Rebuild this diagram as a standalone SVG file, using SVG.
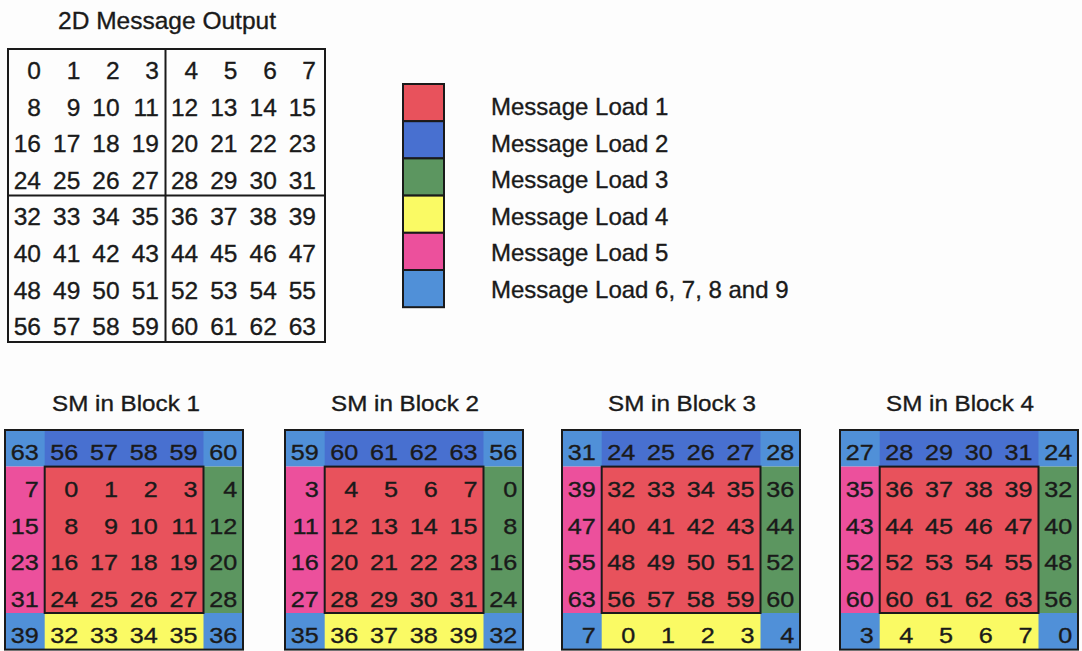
<svg xmlns="http://www.w3.org/2000/svg" width="1082" height="651" viewBox="0 0 1082 651">
  <style>
    text { font-family: "Liberation Sans", Arial, sans-serif; fill: #1a1a1a; stroke: #1a1a1a; stroke-width: 0.35; }
    .title { font-size: 24.5px; text-anchor: middle; }
    .grid { font-size: 24.5px; text-anchor: end; }
    .leg { font-size: 24px; }
    .bt { font-size: 22px; text-anchor: middle; }
    .bn { font-size: 22.5px; text-anchor: end; }
    .frame { fill: none; stroke: #1a1a1a; stroke-width: 2; }
    .red { fill: #E8525C; }
    .blue { fill: #4870D0; }
    .green { fill: #5C9660; }
    .yellow { fill: #FAFA64; }
    .pink { fill: #EC509C; }
    .sky { fill: #5090D8; }
  </style>
  <rect width="1082" height="651" fill="#fdfdfd"/>

  <!-- 8x8 output grid split into four 4x4 quadrants -->
  <g id="output-grid">
    <text class="title" x="167" y="29">2D Message Output</text>
    <rect class="frame" x="8" y="49" width="317" height="293"/>
    <line x1="165.5" y1="49" x2="165.5" y2="342" stroke="#1a1a1a" stroke-width="2"/>
    <line x1="8" y1="195.5" x2="325" y2="195.5" stroke="#1a1a1a" stroke-width="2"/>
    <g class="grid">
      <text x="41" y="79">0</text><text x="80.3" y="79">1</text><text x="119.6" y="79">2</text><text x="158.9" y="79">3</text>
      <text x="198.2" y="79">4</text><text x="237.5" y="79">5</text><text x="276.8" y="79">6</text><text x="316" y="79">7</text>
      <text x="41" y="115.6">8</text><text x="80.3" y="115.6">9</text><text x="119.6" y="115.6">10</text><text x="158.9" y="115.6">11</text>
      <text x="198.2" y="115.6">12</text><text x="237.5" y="115.6">13</text><text x="276.8" y="115.6">14</text><text x="316" y="115.6">15</text>
      <text x="41" y="152.2">16</text><text x="80.3" y="152.2">17</text><text x="119.6" y="152.2">18</text><text x="158.9" y="152.2">19</text>
      <text x="198.2" y="152.2">20</text><text x="237.5" y="152.2">21</text><text x="276.8" y="152.2">22</text><text x="316" y="152.2">23</text>
      <text x="41" y="188.8">24</text><text x="80.3" y="188.8">25</text><text x="119.6" y="188.8">26</text><text x="158.9" y="188.8">27</text>
      <text x="198.2" y="188.8">28</text><text x="237.5" y="188.8">29</text><text x="276.8" y="188.8">30</text><text x="316" y="188.8">31</text>
      <text x="41" y="225.4">32</text><text x="80.3" y="225.4">33</text><text x="119.6" y="225.4">34</text><text x="158.9" y="225.4">35</text>
      <text x="198.2" y="225.4">36</text><text x="237.5" y="225.4">37</text><text x="276.8" y="225.4">38</text><text x="316" y="225.4">39</text>
      <text x="41" y="262">40</text><text x="80.3" y="262">41</text><text x="119.6" y="262">42</text><text x="158.9" y="262">43</text>
      <text x="198.2" y="262">44</text><text x="237.5" y="262">45</text><text x="276.8" y="262">46</text><text x="316" y="262">47</text>
      <text x="41" y="298.6">48</text><text x="80.3" y="298.6">49</text><text x="119.6" y="298.6">50</text><text x="158.9" y="298.6">51</text>
      <text x="198.2" y="298.6">52</text><text x="237.5" y="298.6">53</text><text x="276.8" y="298.6">54</text><text x="316" y="298.6">55</text>
      <text x="41" y="335.2">56</text><text x="80.3" y="335.2">57</text><text x="119.6" y="335.2">58</text><text x="158.9" y="335.2">59</text>
      <text x="198.2" y="335.2">60</text><text x="237.5" y="335.2">61</text><text x="276.8" y="335.2">62</text><text x="316" y="335.2">63</text>
    </g>
  </g>

  <!-- colour key -->
  <g id="legend">
    <g stroke="#1a1a1a" stroke-width="2">
      <rect class="red" x="403" y="84" width="41" height="37.2"/>
      <rect class="blue" x="403" y="121.2" width="41" height="37.2"/>
      <rect class="green" x="403" y="158.4" width="41" height="37.2"/>
      <rect class="yellow" x="403" y="195.6" width="41" height="37.2"/>
      <rect class="pink" x="403" y="232.8" width="41" height="37.2"/>
      <rect class="sky" x="403" y="270" width="41" height="37.2"/>
    </g>
    <text class="leg" x="491" y="115">Message Load 1</text>
    <text class="leg" x="491" y="151.5">Message Load 2</text>
    <text class="leg" x="491" y="188">Message Load 3</text>
    <text class="leg" x="491" y="224.5">Message Load 4</text>
    <text class="leg" x="491" y="261">Message Load 5</text>
    <text class="leg" x="491" y="297.5">Message Load 6, 7, 8 and 9</text>
  </g>

  <!-- shared-memory tile layout: 6x6 cells, halo ring round a 4x4 core -->
  <defs>
    <g id="tile">
      <rect class="sky" x="0" y="430" width="238" height="36.6"/>
      <rect class="blue" x="39.7" y="430" width="158.8" height="36.6"/>
      <rect class="pink" x="0" y="466.6" width="39.7" height="146.4"/>
      <rect class="green" x="198.5" y="466.6" width="39.5" height="146.4"/>
      <rect class="sky" x="0" y="613" width="238" height="36.6"/>
      <rect class="yellow" x="39.7" y="613" width="158.8" height="36.6"/>
      <rect class="frame" x="39.7" y="466.6" width="158.8" height="146.4" style="fill:#E8525C"/>
      <rect class="frame" x="0" y="430" width="238" height="219.6"/>
    </g>
  </defs>

  <g id="block1" transform="translate(5,0)">
    <use href="#tile"/>
    <text class="bt" x="0" y="0" transform="translate(121,410.5) scale(1.1,1)">SM in Block 1</text>
    <g class="bn" transform="scale(1.12,1)">
      <text x="30.1" y="460.5">63</text><text x="65.5" y="460.5">56</text><text x="101" y="460.5">57</text><text x="136.4" y="460.5">58</text><text x="171.9" y="460.5">59</text><text x="207.3" y="460.5">60</text>
      <text x="30.1" y="497.1">7</text><text x="65.5" y="497.1">0</text><text x="101" y="497.1">1</text><text x="136.4" y="497.1">2</text><text x="171.9" y="497.1">3</text><text x="207.3" y="497.1">4</text>
      <text x="30.1" y="533.7">15</text><text x="65.5" y="533.7">8</text><text x="101" y="533.7">9</text><text x="136.4" y="533.7">10</text><text x="171.9" y="533.7">11</text><text x="207.3" y="533.7">12</text>
      <text x="30.1" y="570.3">23</text><text x="65.5" y="570.3">16</text><text x="101" y="570.3">17</text><text x="136.4" y="570.3">18</text><text x="171.9" y="570.3">19</text><text x="207.3" y="570.3">20</text>
      <text x="30.1" y="606.9">31</text><text x="65.5" y="606.9">24</text><text x="101" y="606.9">25</text><text x="136.4" y="606.9">26</text><text x="171.9" y="606.9">27</text><text x="207.3" y="606.9">28</text>
      <text x="30.1" y="643.5">39</text><text x="65.5" y="643.5">32</text><text x="101" y="643.5">33</text><text x="136.4" y="643.5">34</text><text x="171.9" y="643.5">35</text><text x="207.3" y="643.5">36</text>
    </g>
  </g>

  <g id="block2" transform="translate(285,0)">
    <use href="#tile"/>
    <text class="bt" x="0" y="0" transform="translate(120,410.5) scale(1.1,1)">SM in Block 2</text>
    <g class="bn" transform="scale(1.12,1)">
      <text x="30.1" y="460.5">59</text><text x="65.5" y="460.5">60</text><text x="101" y="460.5">61</text><text x="136.4" y="460.5">62</text><text x="171.9" y="460.5">63</text><text x="207.3" y="460.5">56</text>
      <text x="30.1" y="497.1">3</text><text x="65.5" y="497.1">4</text><text x="101" y="497.1">5</text><text x="136.4" y="497.1">6</text><text x="171.9" y="497.1">7</text><text x="207.3" y="497.1">0</text>
      <text x="30.1" y="533.7">11</text><text x="65.5" y="533.7">12</text><text x="101" y="533.7">13</text><text x="136.4" y="533.7">14</text><text x="171.9" y="533.7">15</text><text x="207.3" y="533.7">8</text>
      <text x="30.1" y="570.3">16</text><text x="65.5" y="570.3">20</text><text x="101" y="570.3">21</text><text x="136.4" y="570.3">22</text><text x="171.9" y="570.3">23</text><text x="207.3" y="570.3">16</text>
      <text x="30.1" y="606.9">27</text><text x="65.5" y="606.9">28</text><text x="101" y="606.9">29</text><text x="136.4" y="606.9">30</text><text x="171.9" y="606.9">31</text><text x="207.3" y="606.9">24</text>
      <text x="30.1" y="643.5">35</text><text x="65.5" y="643.5">36</text><text x="101" y="643.5">37</text><text x="136.4" y="643.5">38</text><text x="171.9" y="643.5">39</text><text x="207.3" y="643.5">32</text>
    </g>
  </g>

  <g id="block3" transform="translate(562,0)">
    <use href="#tile"/>
    <text class="bt" x="0" y="0" transform="translate(120,410.5) scale(1.1,1)">SM in Block 3</text>
    <g class="bn" transform="scale(1.12,1)">
      <text x="30.1" y="460.5">31</text><text x="65.5" y="460.5">24</text><text x="101" y="460.5">25</text><text x="136.4" y="460.5">26</text><text x="171.9" y="460.5">27</text><text x="207.3" y="460.5">28</text>
      <text x="30.1" y="497.1">39</text><text x="65.5" y="497.1">32</text><text x="101" y="497.1">33</text><text x="136.4" y="497.1">34</text><text x="171.9" y="497.1">35</text><text x="207.3" y="497.1">36</text>
      <text x="30.1" y="533.7">47</text><text x="65.5" y="533.7">40</text><text x="101" y="533.7">41</text><text x="136.4" y="533.7">42</text><text x="171.9" y="533.7">43</text><text x="207.3" y="533.7">44</text>
      <text x="30.1" y="570.3">55</text><text x="65.5" y="570.3">48</text><text x="101" y="570.3">49</text><text x="136.4" y="570.3">50</text><text x="171.9" y="570.3">51</text><text x="207.3" y="570.3">52</text>
      <text x="30.1" y="606.9">63</text><text x="65.5" y="606.9">56</text><text x="101" y="606.9">57</text><text x="136.4" y="606.9">58</text><text x="171.9" y="606.9">59</text><text x="207.3" y="606.9">60</text>
      <text x="30.1" y="643.5">7</text><text x="65.5" y="643.5">0</text><text x="101" y="643.5">1</text><text x="136.4" y="643.5">2</text><text x="171.9" y="643.5">3</text><text x="207.3" y="643.5">4</text>
    </g>
  </g>

  <g id="block4" transform="translate(840,0)">
    <use href="#tile"/>
    <text class="bt" x="0" y="0" transform="translate(120,410.5) scale(1.1,1)">SM in Block 4</text>
    <g class="bn" transform="scale(1.12,1)">
      <text x="30.1" y="460.5">27</text><text x="65.5" y="460.5">28</text><text x="101" y="460.5">29</text><text x="136.4" y="460.5">30</text><text x="171.9" y="460.5">31</text><text x="207.3" y="460.5">24</text>
      <text x="30.1" y="497.1">35</text><text x="65.5" y="497.1">36</text><text x="101" y="497.1">37</text><text x="136.4" y="497.1">38</text><text x="171.9" y="497.1">39</text><text x="207.3" y="497.1">32</text>
      <text x="30.1" y="533.7">43</text><text x="65.5" y="533.7">44</text><text x="101" y="533.7">45</text><text x="136.4" y="533.7">46</text><text x="171.9" y="533.7">47</text><text x="207.3" y="533.7">40</text>
      <text x="30.1" y="570.3">52</text><text x="65.5" y="570.3">52</text><text x="101" y="570.3">53</text><text x="136.4" y="570.3">54</text><text x="171.9" y="570.3">55</text><text x="207.3" y="570.3">48</text>
      <text x="30.1" y="606.9">60</text><text x="65.5" y="606.9">60</text><text x="101" y="606.9">61</text><text x="136.4" y="606.9">62</text><text x="171.9" y="606.9">63</text><text x="207.3" y="606.9">56</text>
      <text x="30.1" y="643.5">3</text><text x="65.5" y="643.5">4</text><text x="101" y="643.5">5</text><text x="136.4" y="643.5">6</text><text x="171.9" y="643.5">7</text><text x="207.3" y="643.5">0</text>
    </g>
  </g>

  <!-- no connectors in this figure -->
  <g id="connectors"/>
</svg>
